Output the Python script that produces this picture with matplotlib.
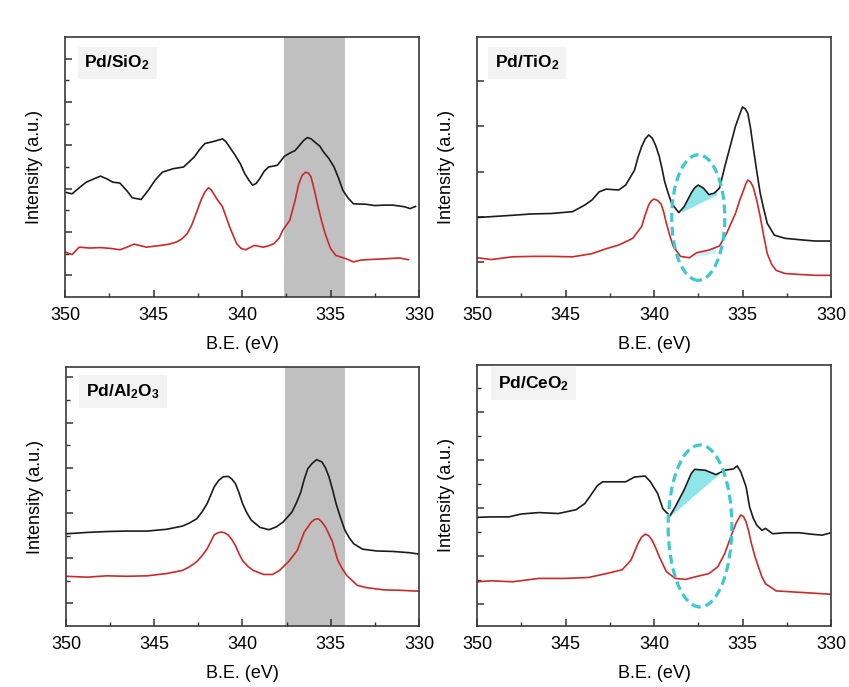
import numpy as np
import matplotlib
matplotlib.use("Agg")
import matplotlib.pyplot as plt
from matplotlib.patches import Ellipse
from matplotlib.ticker import MultipleLocator, FixedLocator

plt.rcParams["font.family"] = ["Liberation Sans", "DejaVu Sans"]
plt.rcParams["mathtext.fontset"] = "custom"
plt.rcParams["mathtext.rm"] = "Liberation Sans"
plt.rcParams["mathtext.bf"] = "Liberation Sans:bold"

# ---- Pd/SiO2 ----
sio2_be_black = [350, 349.6, 349.2, 348.8, 348.0, 347.6, 347.3, 346.9, 346.5, 346.2, 345.7,
                 345.3, 344.9, 344.5, 343.9, 343.3, 342.7, 342.4, 342.1, 341.6, 341.35, 341.1,
                 340.9, 340.7, 340.4, 340.1, 339.85, 339.6, 339.4, 339.2, 339.0, 338.75, 338.5,
                 338.0, 337.6, 337.3, 337.0, 336.75, 336.5, 336.3, 336.1, 335.9, 335.6, 335.4,
                 335.1, 334.8, 334.55, 334.3, 334.0, 333.7, 333.0, 332.5, 332.0, 331.5, 331.1,
                 330.8, 330.5, 330.2]
sio2_black = [2.42, 2.38, 2.52, 2.65, 2.79, 2.72, 2.65, 2.63, 2.45, 2.29, 2.25,
              2.46, 2.70, 2.88, 2.96, 3.00, 3.23, 3.40, 3.54, 3.59, 3.62, 3.65,
              3.58, 3.46, 3.28, 3.08, 2.85, 2.69, 2.58, 2.62, 2.73, 2.90, 3.00,
              3.04, 3.25, 3.32, 3.38, 3.50, 3.62, 3.68, 3.65, 3.58, 3.48, 3.35,
              3.20, 3.00, 2.75, 2.46, 2.28, 2.15, 2.14, 2.11, 2.12, 2.12, 2.10,
              2.08, 2.04, 2.09]
sio2_be_red = [350, 349.6, 349.2, 348.6, 348.0, 347.4, 346.9, 346.5, 346.1, 345.4, 345.0,
               344.6, 344.1, 343.7, 343.4, 343.1, 342.85, 342.6, 342.3, 342.1, 341.9, 341.75,
               341.6, 341.4, 341.1, 340.9, 340.7, 340.5, 340.3, 340.05, 339.8, 339.3, 338.8,
               338.5, 338.2, 337.9, 337.7, 337.3, 337.0, 336.8, 336.6, 336.4, 336.25, 336.1,
               335.9, 335.7, 335.5, 335.3, 335.0, 334.7, 334.1, 333.7, 333.3, 333.0, 332.0,
               331.1, 330.6]
sio2_red = [1.04, 0.98, 1.15, 1.13, 1.14, 1.12, 1.09, 1.15, 1.22, 1.15, 1.17,
            1.19, 1.22, 1.27, 1.34, 1.46, 1.65, 1.92, 2.25, 2.42, 2.52, 2.48,
            2.38, 2.25, 2.08, 1.85, 1.62, 1.42, 1.23, 1.12, 1.09, 1.19, 1.15,
            1.18, 1.23, 1.36, 1.54, 1.77, 2.23, 2.60, 2.81, 2.88, 2.86, 2.77,
            2.45, 2.08, 1.75, 1.46, 1.12, 0.96, 0.88, 0.81, 0.85, 0.86, 0.88,
            0.90, 0.86]

# ---- Pd/TiO2 ----
tio2_be_black = [350, 349.2, 348.0, 346.9, 345.8, 344.6, 343.9, 343.5, 343.1, 342.7, 342.0,
                 341.6, 341.1, 340.9, 340.7, 340.5, 340.3, 340.1, 339.9, 339.7, 339.55, 339.4,
                 339.2, 339.0, 338.6, 338.3, 337.9, 337.7, 337.5, 337.2, 336.9, 336.6, 336.3,
                 336.0, 335.6, 335.4, 335.2, 335.0, 334.85, 334.7, 334.55, 334.4, 334.2, 334.0,
                 333.8, 333.6, 333.2, 332.6, 331.8, 330.9, 330.0]
tio2_black = [1.76, 1.78, 1.81, 1.84, 1.85, 1.89, 2.04, 2.15, 2.33, 2.39, 2.37,
              2.48, 2.81, 3.10, 3.33, 3.50, 3.59, 3.52, 3.35, 3.11, 2.85, 2.56,
              2.30, 2.07, 1.87, 2.00, 2.30, 2.42, 2.48, 2.41, 2.27, 2.30, 2.41,
              2.89, 3.48, 3.78, 4.00, 4.21, 4.17, 4.07, 3.75, 3.33, 2.80, 2.30,
              1.95, 1.63, 1.37, 1.30, 1.27, 1.24, 1.24]
tio2_be_red = [350, 349.2, 348.0, 346.9, 345.8, 344.6, 343.5, 342.7, 342.0, 341.2, 340.7,
               340.5, 340.3, 340.15, 340.0, 339.8, 339.6, 339.45, 339.3, 339.1, 338.9, 338.5,
               338.0, 337.6, 336.9, 336.3, 335.9, 335.4, 335.15, 334.9, 334.8, 334.7, 334.55,
               334.4, 334.2, 334.0, 333.8, 333.6, 333.35, 333.1, 332.6, 331.8, 330.9, 330.0]
tio2_red = [0.87, 0.83, 0.89, 0.90, 0.90, 0.89, 0.96, 1.07, 1.15, 1.30, 1.56,
            1.82, 2.04, 2.13, 2.17, 2.14, 2.06, 1.88, 1.63, 1.35, 1.11, 0.90,
            0.87, 0.98, 1.04, 1.13, 1.41, 1.85, 2.15, 2.41, 2.52, 2.59, 2.55,
            2.44, 2.15, 1.78, 1.35, 0.96, 0.72, 0.59, 0.52, 0.50, 0.48, 0.48]

# ---- Pd/Al2O3 ----
al2o3_be_black = [350, 348.8, 347.7, 346.6, 345.4, 344.3, 343.4, 343.0, 342.6, 342.3, 342.0,
                  341.6, 341.35, 341.1, 340.8, 340.6, 340.4, 340.2, 340.0, 339.75, 339.5, 339.0,
                  338.5, 338.1, 337.7, 337.2, 336.95, 336.7, 336.5, 336.3, 336.05, 335.8, 335.5,
                  335.3, 335.1, 334.9, 334.7, 334.45, 334.2, 333.95, 333.7, 333.2, 332.4, 331.5,
                  330.5, 330.0]
al2o3_black = [2.04, 2.07, 2.09, 2.10, 2.10, 2.14, 2.21, 2.28, 2.37, 2.52, 2.71,
               3.08, 3.22, 3.30, 3.31, 3.25, 3.15, 2.95, 2.71, 2.50, 2.34, 2.18,
               2.13, 2.19, 2.30, 2.52, 2.72, 2.96, 3.25, 3.48, 3.60, 3.68, 3.63,
               3.50, 3.30, 3.02, 2.71, 2.40, 2.12, 1.95, 1.82, 1.70, 1.66, 1.65,
               1.62, 1.59]
al2o3_be_red = [350, 348.8, 347.7, 346.6, 345.4, 344.3, 343.4, 343.0, 342.6, 342.3, 342.0,
                341.6, 341.4, 341.2, 341.0, 340.8, 340.6, 340.4, 340.2, 340.0, 339.7, 339.4,
                338.8, 338.3, 337.9, 337.4, 336.9, 336.5, 336.1, 335.9, 335.7, 335.5, 335.3,
                335.1, 334.9, 334.75, 334.6, 334.35, 334.1, 333.5, 333.0, 332.0, 331.1, 330.0]
al2o3_red = [1.10, 1.08, 1.11, 1.10, 1.11, 1.16, 1.23, 1.31, 1.42, 1.55, 1.71,
             2.02, 2.06, 2.08, 2.06, 2.01, 1.91, 1.78, 1.60, 1.45, 1.32, 1.23,
             1.14, 1.14, 1.23, 1.42, 1.67, 2.08, 2.30, 2.36, 2.37, 2.30, 2.19,
             2.03, 1.86, 1.65, 1.45, 1.27, 1.12, 0.90, 0.85, 0.80, 0.79, 0.77]

# ---- Pd/CeO2 ----
ceo2_be_black = [350, 349.2, 348.2, 347.5, 346.5, 345.4, 344.4, 343.9, 343.5, 343.2, 342.9,
                 342.2, 341.6, 341.1, 340.5, 340.2, 339.8, 339.5, 339.1, 338.8, 338.3, 337.9,
                 337.7, 337.1, 336.5, 336.0, 335.5, 335.3, 335.1, 334.8, 334.6, 334.4, 334.2,
                 333.9, 333.7, 333.3, 332.6, 331.8, 331.1, 330.5, 330.0]
ceo2_black = [2.26, 2.27, 2.27, 2.33, 2.36, 2.34, 2.42, 2.55, 2.76, 2.92, 3.00,
              3.00, 3.00, 3.10, 3.12, 3.00, 2.76, 2.44, 2.29, 2.48, 2.83, 3.17,
              3.26, 3.24, 3.15, 3.24, 3.27, 3.33, 3.21, 2.90, 2.48, 2.25, 2.10,
              1.99, 2.03, 1.92, 1.94, 1.94, 1.91, 1.89, 1.94]
ceo2_be_red = [350, 349.2, 348.0, 346.5, 345.0, 343.7, 342.7, 341.8, 341.3, 340.9, 340.7,
               340.5, 340.3, 340.1, 339.9, 339.7, 339.3, 338.8, 338.2, 337.7, 336.9, 336.4,
               336.0, 335.6, 335.35, 335.1, 334.95, 334.8, 334.65, 334.5, 334.3, 334.1, 333.9,
               333.7, 333.1, 332.2, 331.3, 330.0]
ceo2_red = [0.92, 0.94, 0.92, 0.99, 0.99, 1.01, 1.09, 1.17, 1.37, 1.72, 1.85,
            1.91, 1.88, 1.78, 1.62, 1.44, 1.13, 0.99, 0.97, 1.02, 1.09, 1.23,
            1.51, 1.92, 2.15, 2.31, 2.28, 2.17, 1.97, 1.72, 1.45, 1.23, 1.02,
            0.88, 0.73, 0.71, 0.69, 0.66]

# shaded band (eV) for the left panels
band_be = [337.6, 334.2]

# cyan marks: ellipse (center eV, center y, width eV, height y), fill baseline ends
tio2_ellipse = [337.5, 1.76, 3.0, 2.78]
tio2_fill_be = [338.45, 336.45]
tio2_fill_base = [1.88, 2.27]
tio2_red_fill_be = [338.3, 336.5]
tio2_red_fill_base = [0.86, 0.96]
ceo2_ellipse = [337.4, 2.08, 3.6, 3.37]
ceo2_fill_be = [339.15, 336.3]
ceo2_fill_base = [2.27, 3.17]

W, H = 849, 687
BLACK = "#1c1c1c"
RED = "#cc2a2a"
CYAN = "#3cc9cf"
CYAN_FILL = "#8ee6e8"

fig = plt.figure(figsize=(W / 100, H / 100), dpi=100)


def make_axes(left, top, width, height):
    return fig.add_axes([left / W, 1 - (top + height) / H, width / W, height / H])


def style(ax, ylim, major, minor, label, label_pos):
    ax.set_xlim(350, 330)
    ax.set_ylim(*ylim)
    ax.xaxis.set_major_locator(MultipleLocator(5))
    ax.xaxis.set_minor_locator(MultipleLocator(2.5))
    ax.yaxis.set_major_locator(FixedLocator(major))
    ax.yaxis.set_minor_locator(FixedLocator(minor))
    ax.tick_params(axis="both", which="major", direction="in", length=5, width=1.1,
                   color="#333333", labelsize=13, pad=7)
    ax.tick_params(axis="both", which="minor", direction="in", length=3, width=1.0,
                   color="#333333")
    ax.tick_params(axis="y", which="both", labelleft=False)
    for s in ax.spines.values():
        s.set_color("#3a3a3a")
        s.set_linewidth(1.2)
    ax.set_xlabel("B.E. (eV)", fontsize=13, labelpad=9)
    ax.set_ylabel("Intensity (a.u.)", fontsize=13, labelpad=16)
    ax.text(label_pos[0], label_pos[1], label, transform=ax.transAxes, fontsize=12.5,
            va="center", ha="left",
            bbox=dict(boxstyle="square,pad=0.4", fc="#f3f3f3", ec="none"))


def cyan_fill(ax, be, y, fill_be, base, alpha):
    xs = np.linspace(fill_be[0], fill_be[1], 60)
    curve = np.interp(xs, be[::-1], y[::-1])
    line = np.interp(xs, fill_be[::-1], base[::-1])
    ax.fill_between(xs, line, curve, where=curve >= line, color=CYAN_FILL, alpha=alpha,
                    lw=0)


def ellipse(ax, e):
    ax.add_patch(Ellipse((e[0], e[1]), e[2], e[3], fill=False, ec=CYAN, lw=2.3,
                         ls=(0, (2.8, 1.5)), zorder=4))


def curves(ax, be_b, yb, be_r, yr):
    ax.plot(be_b, yb, color=BLACK, lw=1.2, solid_joinstyle="round")
    ax.plot(be_r, yr, color=RED, lw=1.2, solid_joinstyle="round")


# top-left
ax1 = make_axes(65, 37, 354, 260)
ax1.axvspan(band_be[0], band_be[1], color="#c0c0c0", lw=0, zorder=0)
curves(ax1, sio2_be_black, sio2_black, sio2_be_red, sio2_red)
style(ax1, (0, 6), [0.5, 1.5, 2.5, 3.5, 4.5, 5.5], [1, 2, 3, 4, 5],
      r"$\mathbf{Pd/SiO_2}$", (0.055, 0.9))

# top-right
ax2 = make_axes(477, 37, 354, 260)
cyan_fill(ax2, tio2_be_black, tio2_black, tio2_fill_be, tio2_fill_base, 1.0)
cyan_fill(ax2, tio2_be_red, tio2_red, tio2_red_fill_be, tio2_red_fill_base, 0.5)
curves(ax2, tio2_be_black, tio2_black, tio2_be_red, tio2_red)
ellipse(ax2, tio2_ellipse)
style(ax2, (0, 5.76), [0.78, 1.78, 2.78, 3.78, 4.78], [], r"$\mathbf{Pd/TiO_2}$",
      (0.05, 0.9))

# bottom-left
ax3 = make_axes(66, 367, 353, 259)
ax3.axvspan(band_be[0], band_be[1], color="#c0c0c0", lw=0, zorder=0)
curves(ax3, al2o3_be_black, al2o3_black, al2o3_be_red, al2o3_red)
style(ax3, (0, 5.73), [0.5, 1.5, 2.5, 3.5, 4.5, 5.5], [1, 2, 3, 4, 5],
      r"$\mathbf{Pd/Al_2O_3}$", (0.057, 0.905))

# bottom-right
ax4 = make_axes(477, 365, 354, 261)
cyan_fill(ax4, ceo2_be_black, ceo2_black, ceo2_fill_be, ceo2_fill_base, 1.0)
curves(ax4, ceo2_be_black, ceo2_black, ceo2_be_red, ceo2_red)
ellipse(ax4, ceo2_ellipse)
style(ax4, (0, 5.43), [0.45, 1.45, 2.45, 3.45, 4.45], [0.95, 1.95, 2.95, 3.95, 4.95],
      r"$\mathbf{Pd/CeO_2}$", (0.06, 0.93))

fig.savefig("out.png", dpi=100, facecolor="white")
